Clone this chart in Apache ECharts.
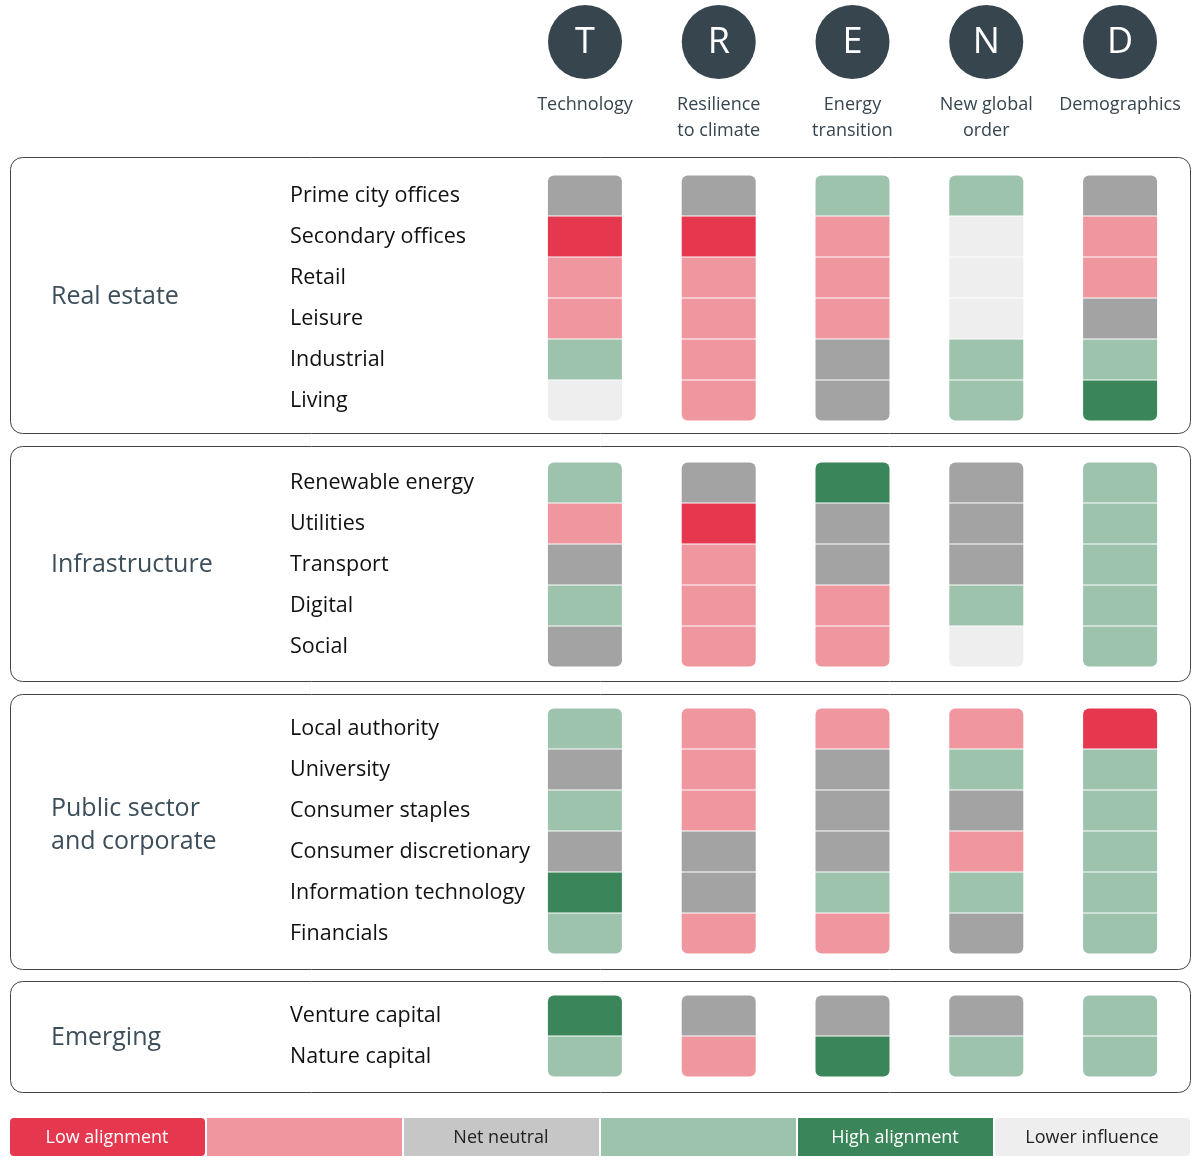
<!DOCTYPE html>
<html><head><meta charset="utf-8">
<script src="https://cdn.jsdelivr.net/npm/echarts@6/dist/echarts.min.js"></script>
<style>html,body{margin:0;padding:0;background:#fff}#c{width:1200px;height:1161px}</style>
</head><body><div id="c"></div>
<script>
const themes = ['Technology','Resilience\nto climate','Energy\ntransition','New global\norder','Demographics'];
const letters = ['T','R','E','N','D'];
const groups = ['Real estate','Infrastructure','Public sector\nand corporate','Emerging'];
// -2 low, -1 low-mid, 0 neutral, 1 high-mid, 2 high, 9 lower influence
const realEstateRows = ['Prime city offices','Secondary offices','Retail','Leisure','Industrial','Living'];
const realEstateVals = [[0,0,1,1,0],[-2,-2,-1,9,-1],[-1,-1,-1,9,-1],[-1,-1,-1,9,0],[1,-1,0,1,1],[9,-1,0,1,2]];
const infraRows = ['Renewable energy','Utilities','Transport','Digital','Social'];
const infraVals = [[1,0,2,0,1],[-1,-2,0,0,1],[0,-1,0,0,1],[1,-1,-1,1,1],[0,-1,-1,9,1]];
const publicRows = ['Local authority','University','Consumer staples','Consumer discretionary','Information technology','Financials'];
const publicVals = [[1,-1,-1,-1,-2],[0,-1,0,1,1],[1,-1,0,0,1],[0,0,0,-1,1],[2,0,1,1,1],[1,-1,-1,0,1]];
const emergingRows = ['Venture capital','Nature capital'];
const emergingVals = [[2,0,0,0,1],[1,-1,2,1,1]];
const legendLabels = ['Low alignment','','Net neutral','','High alignment','Lower influence'];

const colorOf = {'-2':'#E5384F','-1':'#F0969F','0':'#A3A3A3','1':'#9EC3AD','2':'#3A8559','9':'#EEEEEE'};
const legendColors = ['#E5384F','#F0969F','#C6C6C6','#9EC3AD','#3A8559','#EEEEEE'];

const cats = []; const data = [];
[[realEstateRows,realEstateVals],[infraRows,infraVals],[publicRows,publicVals],[emergingRows,emergingVals]].forEach(([rows,vals],gi)=>{
  if (gi>0) cats.push(' '.repeat(gi));
  rows.forEach((r,ri)=>{
    cats.push(r);
    vals[ri].forEach((v,ci)=>data.push([ci, r, v, ri===0?1:0, ri===rows.length-1?1:0]));
  });
});

const chart = echarts.init(document.getElementById('c'));
const graphic = [];
const boxes = [[157,433],[446,681],[694,969],[981,1092]];
const glabelY = [296,564,825,1037];
boxes.forEach((b,i)=>{
  graphic.push({type:'rect',z:-1,shape:{x:10.5,y:b[0]+0.5,width:1180,height:b[1]-b[0],r:12},style:{fill:'none',stroke:'#444',lineWidth:1}});
  graphic.push({type:'text',left:51,top:glabelY[i]-(i===2?33:16),style:{text:groups[i],font:'25px "Open Sans", sans-serif',fill:'#3C4E5A',lineHeight:33}});
});
const xc = i => 585 + i*133.75;
letters.forEach((l,i)=>{
  graphic.push({type:'circle',shape:{cx:xc(i),cy:42,r:37},style:{fill:'#37454F'}});
  graphic.push({type:'text',x:xc(i),y:43,style:{text:l,font:'36px "Open Sans", sans-serif',fill:'#fff',align:'center',verticalAlign:'middle'}});
  graphic.push({type:'text',x:xc(i),y:92,style:{text:themes[i],font:'18px "Open Sans", sans-serif',fill:'#37454F',align:'center',verticalAlign:'top',lineHeight:26}});
});
legendColors.forEach((c,i)=>{
  const x = 10 + i*197;
  graphic.push({type:'rect',shape:{x:x,y:1118,width:195,height:38,r:(i===0||i===5)?4:0},style:{fill:c}});
  graphic.push({type:'text',x:x+97,y:1138,style:{text:legendLabels[i],font:'18px "Open Sans", sans-serif',fill:(i===0||i===4)?'#fff':'#222',align:'center',verticalAlign:'middle'}});
});

chart.setOption({
  animation:false,
  grid:{left:518,right:13,top:175,height:902},
  xAxis:{type:'category',data:themes,show:false},
  yAxis:{type:'category',data:cats,inverse:true,axisLine:{show:false},axisTick:{show:false},
    axisLabel:{align:'left',margin:228,fontSize:21.5,color:'#111',fontFamily:'"Open Sans", sans-serif'}},
  graphic:graphic,
  series:[{type:'custom',data:data,encode:{x:0,y:1},
    renderItem:(params,api)=>{
      const p = api.coord([api.value(0),api.value(1)]);
      const top = api.value(3), bot = api.value(4);
      const r = [top?6:0, top?6:0, bot?6:0, bot?6:0];
      return {type:'rect',shape:{x:p[0]-37,y:p[1]-20,width:74,height:40,r:r},
        style:{fill:colorOf[String(api.value(2))]}};
    }}]
});
</script></body></html>
